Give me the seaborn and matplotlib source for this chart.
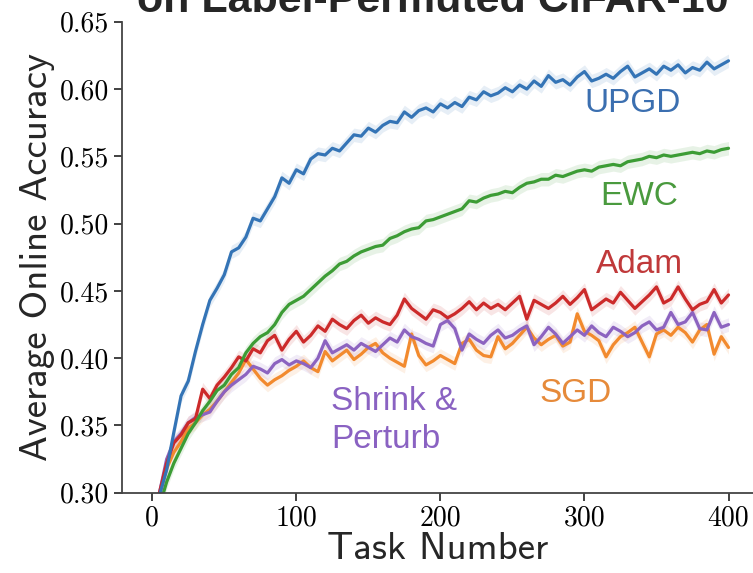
import numpy as np
import pandas as pd
import seaborn as sns
import matplotlib.pyplot as plt

# task number grid (every 5 tasks)
tasks = list(range(0, 401, 5))

upgd = [0.260, 0.298, 0.317, 0.345, 0.372, 0.383, 0.405, 0.425, 0.443, 0.452,
        0.462, 0.479, 0.482, 0.490, 0.504, 0.502, 0.511, 0.520, 0.534, 0.530,
        0.540, 0.537, 0.548, 0.552, 0.551, 0.556, 0.554, 0.560, 0.566, 0.565,
        0.571, 0.568, 0.573, 0.576, 0.575, 0.583, 0.579, 0.584, 0.586, 0.583,
        0.589, 0.586, 0.590, 0.587, 0.594, 0.592, 0.598, 0.595, 0.597, 0.601,
        0.598, 0.603, 0.600, 0.606, 0.602, 0.610, 0.605, 0.607, 0.603, 0.609,
        0.613, 0.606, 0.608, 0.611, 0.608, 0.613, 0.617, 0.609, 0.612, 0.615,
        0.611, 0.617, 0.614, 0.618, 0.612, 0.616, 0.614, 0.620, 0.615, 0.618,
        0.621]
ewc = [0.270, 0.290, 0.308, 0.322, 0.333, 0.344, 0.352, 0.361, 0.368, 0.376,
       0.380, 0.388, 0.393, 0.404, 0.411, 0.416, 0.419, 0.425, 0.434, 0.440,
       0.443, 0.446, 0.451, 0.456, 0.461, 0.465, 0.470, 0.472, 0.476, 0.479,
       0.481, 0.483, 0.484, 0.489, 0.491, 0.494, 0.496, 0.497, 0.502, 0.503,
       0.505, 0.507, 0.509, 0.511, 0.517, 0.516, 0.519, 0.521, 0.522, 0.524,
       0.523, 0.527, 0.530, 0.531, 0.533, 0.533, 0.536, 0.535, 0.537, 0.539,
       0.540, 0.539, 0.542, 0.543, 0.544, 0.543, 0.546, 0.547, 0.548, 0.550,
       0.549, 0.551, 0.550, 0.551, 0.552, 0.553, 0.552, 0.554, 0.553, 0.555,
       0.556]
adam = [0.270, 0.300, 0.322, 0.337, 0.343, 0.352, 0.355, 0.377, 0.370, 0.380,
        0.386, 0.393, 0.401, 0.398, 0.407, 0.404, 0.413, 0.417, 0.406, 0.414,
        0.420, 0.412, 0.417, 0.424, 0.420, 0.429, 0.425, 0.422, 0.428, 0.432,
        0.426, 0.430, 0.427, 0.425, 0.432, 0.444, 0.437, 0.433, 0.429, 0.436,
        0.434, 0.430, 0.433, 0.437, 0.442, 0.436, 0.441, 0.437, 0.440, 0.436,
        0.441, 0.446, 0.429, 0.443, 0.440, 0.437, 0.441, 0.446, 0.440, 0.445,
        0.451, 0.436, 0.440, 0.444, 0.441, 0.449, 0.443, 0.437, 0.442, 0.447,
        0.453, 0.441, 0.444, 0.453, 0.444, 0.436, 0.440, 0.442, 0.451, 0.441,
        0.447]
sgd = [0.270, 0.298, 0.318, 0.330, 0.338, 0.348, 0.352, 0.358, 0.362, 0.368,
       0.375, 0.382, 0.389, 0.399, 0.392, 0.385, 0.380, 0.384, 0.387, 0.391,
       0.394, 0.398, 0.393, 0.390, 0.405, 0.398, 0.402, 0.406, 0.399, 0.403,
       0.408, 0.411, 0.404, 0.400, 0.397, 0.394, 0.418, 0.402, 0.395, 0.398,
       0.402, 0.399, 0.396, 0.411, 0.414, 0.406, 0.402, 0.401, 0.416, 0.407,
       0.411, 0.417, 0.423, 0.415, 0.410, 0.414, 0.417, 0.409, 0.412, 0.433,
       0.420, 0.417, 0.413, 0.401, 0.410, 0.416, 0.419, 0.423, 0.412, 0.401,
       0.418, 0.421, 0.417, 0.423, 0.419, 0.412, 0.421, 0.425, 0.403, 0.416,
       0.408]
shrink = [0.270, 0.300, 0.325, 0.338, 0.344, 0.352, 0.356, 0.358, 0.360, 0.368,
          0.375, 0.380, 0.384, 0.388, 0.394, 0.392, 0.389, 0.396, 0.399, 0.395,
          0.398, 0.396, 0.393, 0.400, 0.413, 0.404, 0.407, 0.410, 0.406, 0.411,
          0.408, 0.405, 0.410, 0.415, 0.412, 0.421, 0.416, 0.414, 0.411, 0.409,
          0.425, 0.428, 0.422, 0.406, 0.418, 0.414, 0.411, 0.417, 0.421, 0.415,
          0.417, 0.421, 0.424, 0.410, 0.416, 0.423, 0.418, 0.411, 0.416, 0.421,
          0.417, 0.424, 0.419, 0.416, 0.423, 0.420, 0.416, 0.419, 0.424, 0.427,
          0.421, 0.423, 0.434, 0.425, 0.427, 0.434, 0.422, 0.421, 0.434, 0.423,
          0.425]

methods = ["SGD", "Shrink & Perturb", "Adam", "EWC", "UPGD"]
series = [sgd, shrink, adam, ewc, upgd]
colors = {"UPGD": "#3474b6", "EWC": "#3c9c35", "Adam": "#cc2a2a",
          "SGD": "#f28a2e", "Shrink & Perturb": "#8c63c0"}

df = pd.concat([pd.DataFrame({"task": tasks, "acc": s, "method": m})
                for m, s in zip(methods, series)], ignore_index=True)

sns.set_style("ticks")
fig = plt.figure(figsize=(7.53, 5.73), dpi=100)
ax = fig.add_axes([0.162, 0.140, 0.838, 0.822])

sns.lineplot(data=df, x="task", y="acc", hue="method", palette=colors,
             linewidth=2.3, legend=False, ax=ax)
# faint shaded error band
for m, s in zip(methods, series):
    s = np.array(s)
    ax.fill_between(tasks, s - 0.005, s + 0.005, color=colors[m], alpha=0.12, lw=0)

ax.set_xlim(-21, 417)
ax.set_ylim(0.30, 0.65)
ax.set_xticks([0, 100, 200, 300, 400])
ax.set_yticks([0.30, 0.35, 0.40, 0.45, 0.50, 0.55, 0.60, 0.65])
ax.set_yticklabels(["0.30", "0.35", "0.40", "0.45", "0.50", "0.55", "0.60", "0.65"])
for lab in ax.get_xticklabels() + ax.get_yticklabels():
    lab.set_fontfamily("cmr10")
    lab.set_fontsize(20)
ax.tick_params(length=6, width=1.3, colors="#333333", labelcolor="black", pad=3)
sns.despine(ax=ax)
for sp in ["left", "bottom"]:
    ax.spines[sp].set_linewidth(1.3)
    ax.spines[sp].set_color("#444444")

ax.set_xlabel("Task Number", fontfamily="cmss10", fontsize=28, labelpad=0)
ax.set_ylabel("Average Online Accuracy", fontfamily="cmss10", fontsize=28, labelpad=4)

# inline labels
lab_kw = dict(fontfamily="Liberation Sans", fontsize=24, ha="left", va="center")
ax.text(300, 0.589, "UPGD", color="#3b6fb0", **lab_kw)
ax.text(311, 0.520, "EWC", color="#4a9a3e", **lab_kw)
ax.text(308, 0.470, "Adam", color="#c0393a", **lab_kw)
ax.text(269, 0.374, "SGD", color="#e68a3a", **lab_kw)
ax.text(124, 0.354, "Shrink &\nPerturb", color="#8a62c2", linespacing=1.3, **lab_kw)

fig.text(0.182, 0.979, "on Label-Permuted CIFAR-10", fontfamily="Liberation Sans",
         fontweight="bold", fontsize=31, ha="left", va="baseline")

fig.savefig("out.png", dpi=100)
